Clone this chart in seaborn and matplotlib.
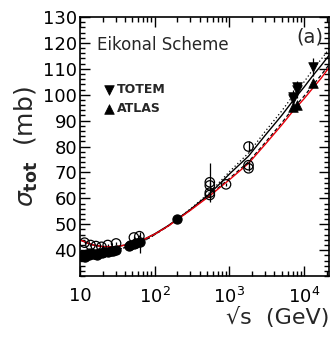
import matplotlib
matplotlib.use('Agg')
import matplotlib.pyplot as plt
import matplotlib.ticker as mticker
import numpy as np
import pandas as pd
import seaborn as sns

# data
pp_E = [10.0, 10.7, 11.5, 12.3, 13.0, 13.8, 15.0, 16.0, 17.0, 18.2, 19.4, 21.0,
        23.5, 26.0, 27.4, 30.6, 44.7, 47.0, 52.8, 56.0, 62.7, 200.0]
pp_sig = [37.6, 38.2, 37.4, 38.6, 38.1, 38.9, 38.4, 38.7, 38.2, 38.9, 38.9, 39.2,
          39.3, 39.6, 39.8, 40.1, 41.7, 42.0, 42.3, 42.6, 43.0, 52.0]
pp_err = [0.6] * 20 + [4.0, 1.5]

pbar_E = [11.5, 13.8, 16.3, 19.4, 23.5, 30.4, 52.6, 62.3,
          546, 546, 546, 546, 900, 1800, 1800, 1800]
pbar_sig = [42.9, 42.0, 41.6, 41.3, 42.0, 42.6, 44.9, 45.4,
            66.2, 65.0, 62.2, 61.3, 65.4, 80.0, 72.8, 71.6]
pbar_err = [0.5] * 8 + [7.5, 1.5, 1.5, 1.0, 0.7, 2.2, 1.5, 1.0]

totem_E = [7000, 7000, 8000, 8000, 13000]
totem_sig = [98.3, 99.1, 101.7, 102.9, 110.6]
totem_err = [2.8, 2.8, 2.9, 2.3, 3.4]

atlas_E = [7000, 8000, 13000]
atlas_sig = [95.35, 96.07, 104.7]
atlas_err = [1.4, 1.0, 1.1]

# model curves
curve_E = [10, 12, 15, 20, 30, 50, 70, 100, 150, 200, 300, 546, 1000, 1800,
           3000, 5000, 7000, 10000, 13000, 17000, 21500]
solid_black = [44.0, 43.0, 42.0, 41.4, 41.3, 42.5, 44.0, 46.3, 49.4, 52.0, 55.7, 61.8,
               69.4, 76.3, 84.3, 92.0, 97.5, 103.0, 107.3, 111.4, 115.2]
dotted_black = [37.8, 38.1, 38.5, 39.0, 40.0, 41.8, 43.4, 46.0, 49.3, 52.0, 55.9, 62.3,
                70.3, 77.5, 85.8, 93.7, 99.4, 105.0, 109.6, 113.8, 117.6]
red_solid = [44.0, 43.0, 42.0, 41.4, 41.3, 42.5, 44.0, 46.2, 49.2, 51.8, 55.4, 61.0,
             67.2, 73.5, 80.8, 88.3, 93.5, 98.5, 102.5, 106.5, 110.5]
dashed_black = [37.8, 38.1, 38.5, 39.0, 40.0, 41.8, 43.4, 46.0, 49.2, 51.8, 55.5, 61.3,
                67.7, 74.1, 81.5, 89.1, 94.5, 99.5, 103.6, 107.7, 111.6]

sns.set_style("ticks")
plt.rcParams['font.family'] = ['DejaVu Sans']
plt.rcParams['mathtext.fontset'] = 'dejavusans'

fig = plt.figure(figsize=(3.32, 3.40), dpi=100)
ax = fig.add_axes([0.241, 0.188, 0.750, 0.762])

curves = pd.DataFrame({"E": curve_E, "solid": solid_black, "dotted": dotted_black,
                       "red": red_solid, "dashed": dashed_black})
sns.lineplot(data=curves, x="E", y="dotted", ax=ax, color="black", lw=0.9,
             linestyle=(0, (1, 2)), sort=False)
sns.lineplot(data=curves, x="E", y="dashed", ax=ax, color="black", lw=0.9,
             linestyle=(0, (3, 2)), sort=False)
sns.lineplot(data=curves, x="E", y="solid", ax=ax, color="black", lw=1.0, sort=False)
sns.lineplot(data=curves, x="E", y="red", ax=ax, color="#e8000b", lw=1.0, sort=False)

# error bars
ax.errorbar(pp_E, pp_sig, yerr=pp_err, fmt='none', ecolor='black', elinewidth=0.9)
ax.errorbar(pbar_E, pbar_sig, yerr=pbar_err, fmt='none', ecolor='black', elinewidth=0.9)
ax.errorbar(totem_E, totem_sig, yerr=totem_err, fmt='none', ecolor='black', elinewidth=0.9)
ax.errorbar(atlas_E, atlas_sig, yerr=atlas_err, fmt='none', ecolor='black', elinewidth=0.9)

sns.scatterplot(x=pp_E, y=pp_sig, ax=ax, marker='o', s=44, color='black',
                edgecolor='black', linewidth=0.8, zorder=4)
sns.scatterplot(x=pbar_E, y=pbar_sig, ax=ax, marker='o', s=46, facecolor='none',
                edgecolor='black', linewidth=0.9, zorder=4)
sns.scatterplot(x=totem_E, y=totem_sig, ax=ax, marker='v', s=48, color='black',
                edgecolor='black', linewidth=0.5, zorder=5, label='TOTEM')
sns.scatterplot(x=atlas_E, y=atlas_sig, ax=ax, marker='^', s=48, color='black',
                edgecolor='black', linewidth=0.5, zorder=5, label='ATLAS')

ax.set_xscale('log')
ax.set_xlim(10, 21500)
ax.set_ylim(30, 130)

ax.xaxis.set_major_locator(mticker.FixedLocator([10, 100, 1000, 10000]))
ax.xaxis.set_major_formatter(mticker.FixedFormatter(
    ['10', r'$10^{2}$', r'$10^{3}$', r'$10^{4}$']))
ax.xaxis.set_minor_locator(mticker.LogLocator(base=10, subs=np.arange(2, 10)))
ax.xaxis.set_minor_formatter(mticker.NullFormatter())
ax.yaxis.set_major_locator(mticker.MultipleLocator(10))
ax.yaxis.set_minor_locator(mticker.MultipleLocator(2))
ax.set_yticks([40, 50, 60, 70, 80, 90, 100, 110, 120, 130])

ax.tick_params(which='both', direction='in', top=True, right=True, labelsize=13,
               width=1.0, color='black', labelcolor='black')
ax.tick_params(which='major', length=7)
ax.tick_params(which='minor', length=3.5)
ax.tick_params(axis='y', pad=2)
ax.tick_params(axis='x', pad=8)
for sp in ax.spines.values():
    sp.set_linewidth(1.2)
    sp.set_color('black')

ax.set_xlabel('√s  (GeV)', fontsize=16, loc='right', labelpad=0)
ax.set_ylabel(r'$\sigma_{\mathbf{tot}}$  (mb)', fontsize=18, labelpad=2)

ax.text(0.068, 0.892, 'Eikonal Scheme', transform=ax.transAxes, fontsize=12,
        ha='left', va='center')
ax.text(0.976, 0.923, '(a)', transform=ax.transAxes, fontsize=14,
        ha='right', va='center')

leg = ax.legend(loc='center left', bbox_to_anchor=(0.065, 0.683), frameon=False,
                prop={'weight': 'bold', 'size': 9}, handletextpad=0.15,
                labelspacing=0.45, handlelength=1.0, borderpad=0)

fig.savefig('out.png', dpi=100)
